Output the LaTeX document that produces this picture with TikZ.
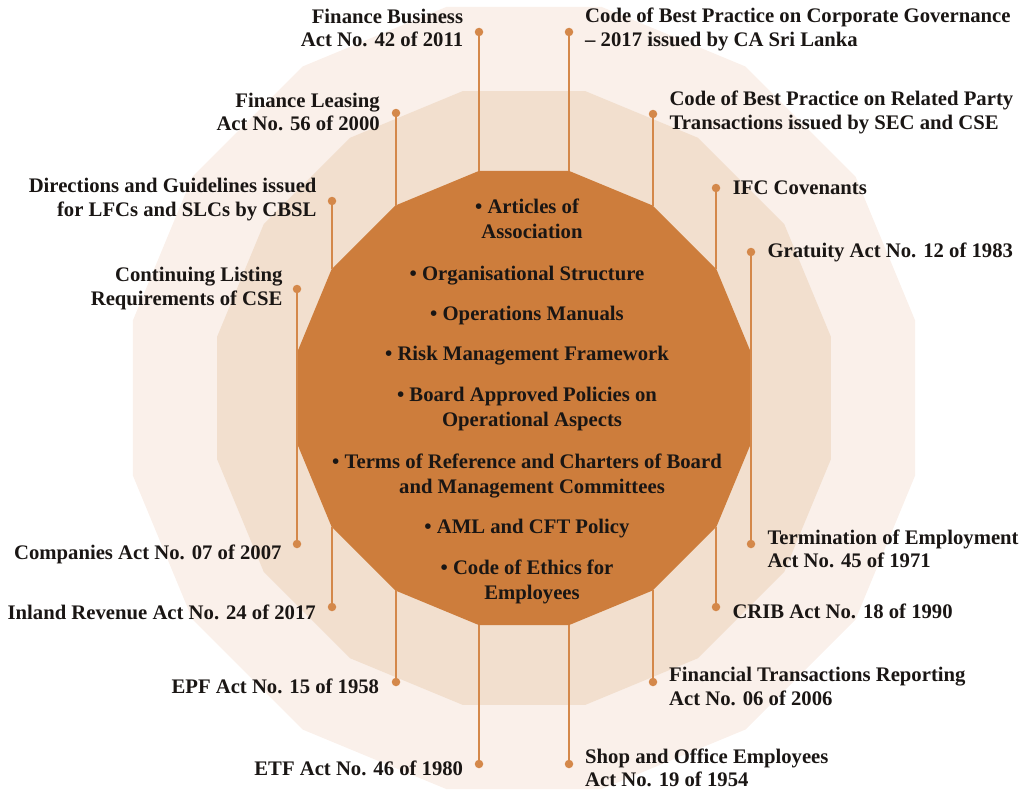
\documentclass[tikz,border=0pt]{standalone}
\usepackage{fontspec}
\setmainfont{Liberation Serif}
\definecolor{outerc}{RGB}{250,240,234}
\definecolor{midc}{RGB}{242,223,206}
\definecolor{innerc}{RGB}{205,125,60}
\definecolor{linec}{RGB}{212,136,74}
\definecolor{textc}{RGB}{26,22,20}
\newcommand\labR[1]{\begin{tabular}[t]{@{}r@{}}#1\end{tabular}}
\newcommand\labL[1]{\begin{tabular}[t]{@{}l@{}}#1\end{tabular}}
\newcommand\labC[1]{\begin{tabular}[t]{@{}c@{}}#1\end{tabular}}
\begin{document}
\begin{tikzpicture}[x=1pt,y=-1pt,
  dot/.style={circle,fill=linec,inner sep=0pt,minimum size=8.5pt},
  conn/.style={draw=linec,line width=2pt},
  labtxt/.style={inner sep=0pt,text=textc,font=\fontsize{20.7}{23.4}\selectfont\bfseries},
  lableft/.style={labtxt,anchor=base east},
  labright/.style={labtxt,anchor=base west},
  item/.style={inner sep=0pt,text=textc,anchor=base,font=\fontsize{20.7}{25}\selectfont\bfseries}]
\useasboundingbox (0,0) rectangle (1028,792);
% concentric 16-gons
\fill[outerc, shift={(524,398)}] (11.25:398.7) \foreach \k in {1,...,15} { -- ({11.25+22.5*\k}:398.7) } -- cycle;
\fill[midc, shift={(524,398)}] (11.25:313) \foreach \k in {1,...,15} { -- ({11.25+22.5*\k}:313) } -- cycle;
\fill[innerc, shift={(524,398)}] (11.25:231.5) \foreach \k in {1,...,15} { -- ({11.25+22.5*\k}:231.5) } -- cycle;
% vertices of the inner polygon
\coordinate (vT1) at (479,170.9);
\coordinate (vT2) at (569,170.9);
\coordinate (vT3) at (396,205.6);
\coordinate (vT4) at (653,205.6);
\coordinate (vT5) at (332,269.4);
\coordinate (vT6) at (716,269.4);
\coordinate (vB1) at (479,625.1);
\coordinate (vB2) at (569,625.1);
\coordinate (vB3) at (396,590.4);
\coordinate (vB4) at (653,590.4);
\coordinate (vB5) at (332,526.6);
\coordinate (vB6) at (716,526.6);
% dots
\node[dot] (dFB) at (479,32) {};
\node[dot] (dCG) at (569,32) {};
\node[dot] (dFL) at (396,113) {};
\node[dot] (dRP) at (653,114) {};
\node[dot] (dDG) at (332,201) {};
\node[dot] (dIFC) at (716,188) {};
\node[dot] (dCL) at (297,289) {};
\node[dot] (dGR) at (751,252) {};
\node[dot] (dCA) at (297,544) {};
\node[dot] (dTE) at (751,544) {};
\node[dot] (dIR) at (332,607) {};
\node[dot] (dCR) at (716,607) {};
\node[dot] (dEPF) at (396,682) {};
\node[dot] (dFT) at (653,682) {};
\node[dot] (dETF) at (479,764) {};
\node[dot] (dSO) at (569,764) {};
% connectors
\draw[conn] (dFB) -- (vT1);
\draw[conn] (dCG) -- (vT2);
\draw[conn] (dFL) -- (vT3);
\draw[conn] (dRP) -- (vT4);
\draw[conn] (dDG) -- (vT5);
\draw[conn] (dIFC) -- (vT6);
\draw[conn] (dCL) -- (dCA);
\draw[conn] (dGR) -- (dTE);
\draw[conn] (dIR) -- (vB5);
\draw[conn] (dCR) -- (vB6);
\draw[conn] (dEPF) -- (vB3);
\draw[conn] (dFT) -- (vB4);
\draw[conn] (dETF) -- (vB1);
\draw[conn] (dSO) -- (vB2);
% left labels
\node[lableft] (tFB) at (463.3,23.3) {\labR{Finance Business\\Act No. 42 of 2011}};
\node[lableft] (tFL) at (380,107.3) {\labR{Finance Leasing\\Act No. 56 of 2000}};
\node[lableft] (tDG) at (316.7,192.7) {\labR{Directions and Guidelines issued\\for LFCs and SLCs by CBSL}};
\node[lableft] (tCL) at (282.7,281.7) {\labR{Continuing Listing\\Requirements of CSE}};
\node[lableft] (tCA) at (281.7,559.3) {Companies Act No. 07 of 2007};
\node[lableft] (tIR) at (316,619.3) {Inland Revenue Act No. 24 of 2017};
\node[lableft] (tEPF) at (379.3,693.3) {EPF Act No. 15 of 1958};
\node[lableft] (tETF) at (463.3,775) {ETF Act No. 46 of 1980};
% right labels
\node[labright] (tCG) at (585,22.7) {\labL{Code of Best Practice on Corporate Governance\\-- 2017 issued by CA Sri Lanka}};
\node[labright] (tRP) at (669.3,106) {\labL{Code of Best Practice on Related Party\\Transactions issued by SEC and CSE}};
\node[labright] (tIFC) at (732.7,194) {IFC Covenants};
\node[labright] (tGR) at (767.3,257.5) {Gratuity Act No. 12 of 1983};
\node[labright] (tTE) at (767.3,544) {\labL{Termination of Employment\\Act No. 45 of 1971}};
\node[labright] (tCR) at (732.3,618.3) {CRIB Act No. 18 of 1990};
\node[labright] (tFT) at (669,681.7) {\labL{Financial Transactions Reporting\\Act No. 06 of 2006}};
\node[labright] (tSO) at (585,763.3) {\labL{Shop and Office Employees\\Act No. 19 of 1954}};
% centre items
\node[item] (i1) at (527,213) {\labC{\textbullet\ Articles of\\\hspace*{10pt}Association}};
\node[item] (i2) at (527,280) {\textbullet\ Organisational Structure};
\node[item] (i3) at (527,320) {\textbullet\ Operations Manuals};
\node[item] (i4) at (527,360) {\textbullet\ Risk Management Framework};
\node[item] (i5) at (527,401.5) {\labC{\textbullet\ Board Approved Policies on\\\hspace*{10pt}Operational Aspects}};
\node[item] (i6) at (527,468) {\labC{\textbullet\ Terms of Reference and Charters of Board\\\hspace*{10pt}and Management Committees}};
\node[item] (i7) at (527,533) {\textbullet\ AML and CFT Policy};
\node[item] (i8) at (527,574) {\labC{\textbullet\ Code of Ethics for\\\hspace*{10pt}Employees}};
\end{tikzpicture}
\end{document}
